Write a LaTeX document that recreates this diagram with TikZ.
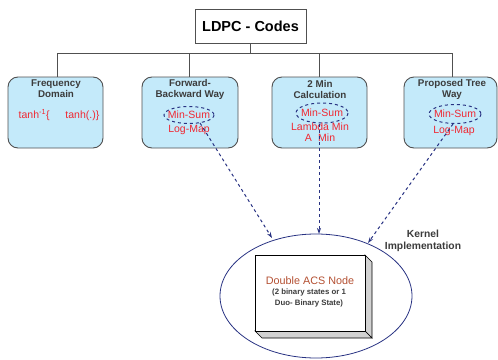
\documentclass[tikz,border=0pt]{standalone}
\usepackage{fontspec}
\setmainfont{Liberation Sans}
\usetikzlibrary{arrows.meta}
\definecolor{boxblue}{RGB}{196,234,250}
\definecolor{boxedge}{RGB}{80,80,80}
\definecolor{navy}{RGB}{40,50,130}
\definecolor{redtxt}{RGB}{240,40,50}
\definecolor{brown}{RGB}{180,80,50}
\definecolor{titlegray}{RGB}{60,60,60}
\begin{document}
\begin{tikzpicture}[x=1pt,y=-1pt,
  catbox/.style={draw=boxedge,line width=0.9pt,fill=boxblue,rounded corners=10pt},
  cattitle/.style={font=\bfseries\fontsize{9.8}{11}\selectfont,text=titlegray,align=center,inner sep=0pt},
  redlabel/.style={font=\fontsize{10.5}{11}\selectfont,text=redtxt,align=center,inner sep=0pt},
  mark ellipse/.style={draw=navy,dashed,line width=1pt},
  tree/.style={draw=boxedge,line width=0.9pt},
  flow/.style={draw=navy,dashed,line width=1pt,-{Stealth[length=6pt,width=4pt]}}]
\useasboundingbox (0,0) rectangle (498,359);
% top
\node[draw=boxedge,line width=0.9pt,fill=white,minimum width=111pt,minimum height=34pt,inner sep=0pt,
  font=\bfseries\fontsize{14.5}{16}\selectfont] (ldpc) at (250.5,26) {LDPC - Codes};
\coordinate (hub) at (250.5,53);
\coordinate (h1) at (57,53);
\coordinate (h2) at (189,53);
\coordinate (h3) at (319,53);
\coordinate (h4) at (452,53);
% boxes
\draw[catbox] (8,77) rectangle (103,148);
\draw[catbox] (142,77) rectangle (238,148);
\draw[catbox] (272,77) rectangle (367,148);
\draw[catbox] (404,77) rectangle (497,148);
\coordinate (b1) at (57,77);
\coordinate (b2) at (189,77);
\coordinate (b3) at (319,77);
\coordinate (b4) at (452,77);
\draw[tree] (ldpc.south) -- (hub);
\draw[tree] (h1) -- (h4);
\draw[tree] (h1) -- (b1);
\draw[tree] (h2) -- (b2);
\draw[tree] (h3) -- (b3);
\draw[tree] (h4) -- (b4);
% titles
\node[cattitle] (t1) at (56,89) {Frequency\\Domain};
\node[cattitle] (t2) at (190,89) {Forward-\\Backward Way};
\node[cattitle] (t3) at (320,89) {2 Min\\Calculation};
\node[cattitle] (t4) at (452,89) {Proposed Tree\\Way};
% contents
\node[redlabel] (f1) at (59,115) {tanh\textsuperscript{-1}\{\hspace{1.5em}tanh(.)\}};
\draw[mark ellipse] (189,115) ellipse (25 and 8.5);
\node[redlabel] (ms2) at (189,115) {Min-Sum};
\node[redlabel] (lm2) at (189,130) {Log-Map};
\draw[mark ellipse] (322,113) ellipse (26 and 10);
\node[redlabel] (ms3) at (322,113) {Min-Sum};
\node[redlabel] (lm3) at (320,132.5) {Lambda Min\\A\hspace{0.6em}Min};
\draw[mark ellipse] (455,114) ellipse (26 and 9.5);
\node[redlabel] (ms4) at (455,114) {Min-Sum};
\node[redlabel] (lm4) at (454,131) {Log-Map};
\coordinate (s2) at (200,123);
\coordinate (s3) at (319,124);
\coordinate (s4) at (453,124);
% kernel
\draw[draw=navy,line width=0.8pt] (316,296) ellipse (96 and 62);
\coordinate (e2) at (272,238);
\coordinate (e3) at (319,234);
\coordinate (e4) at (368,243);
\draw[flow] (s2) -- (e2);
\draw[flow] (s3) -- (e3);
\draw[flow] (s4) -- (e4);
\node[font=\bfseries\fontsize{10.3}{12}\selectfont,text=titlegray,align=center,inner sep=0pt] (kern) at (423,241) {Kernel\\Implementation};
% 3d box
\fill[gray!35,draw=black,line width=0.6pt] (365,255) -- (372,262) -- (372,338) -- (365,331) -- cycle;
\fill[gray!35,draw=black,line width=0.6pt] (255,331) -- (365,331) -- (372,338) -- (262,338) -- cycle;
\draw[fill=white,draw=black,line width=0.7pt] (255,255) rectangle (365,331);
\node[font=\fontsize{10.8}{12}\selectfont,text=brown,inner sep=0pt] (acs) at (310,281) {Double ACS Node};
\node[font=\bfseries\fontsize{7.8}{10.5}\selectfont,text=titlegray,align=center,inner sep=0pt] (acsd) at (309,298) {(2 binary states or 1\\Duo- Binary State)};
\end{tikzpicture}
\end{document}
